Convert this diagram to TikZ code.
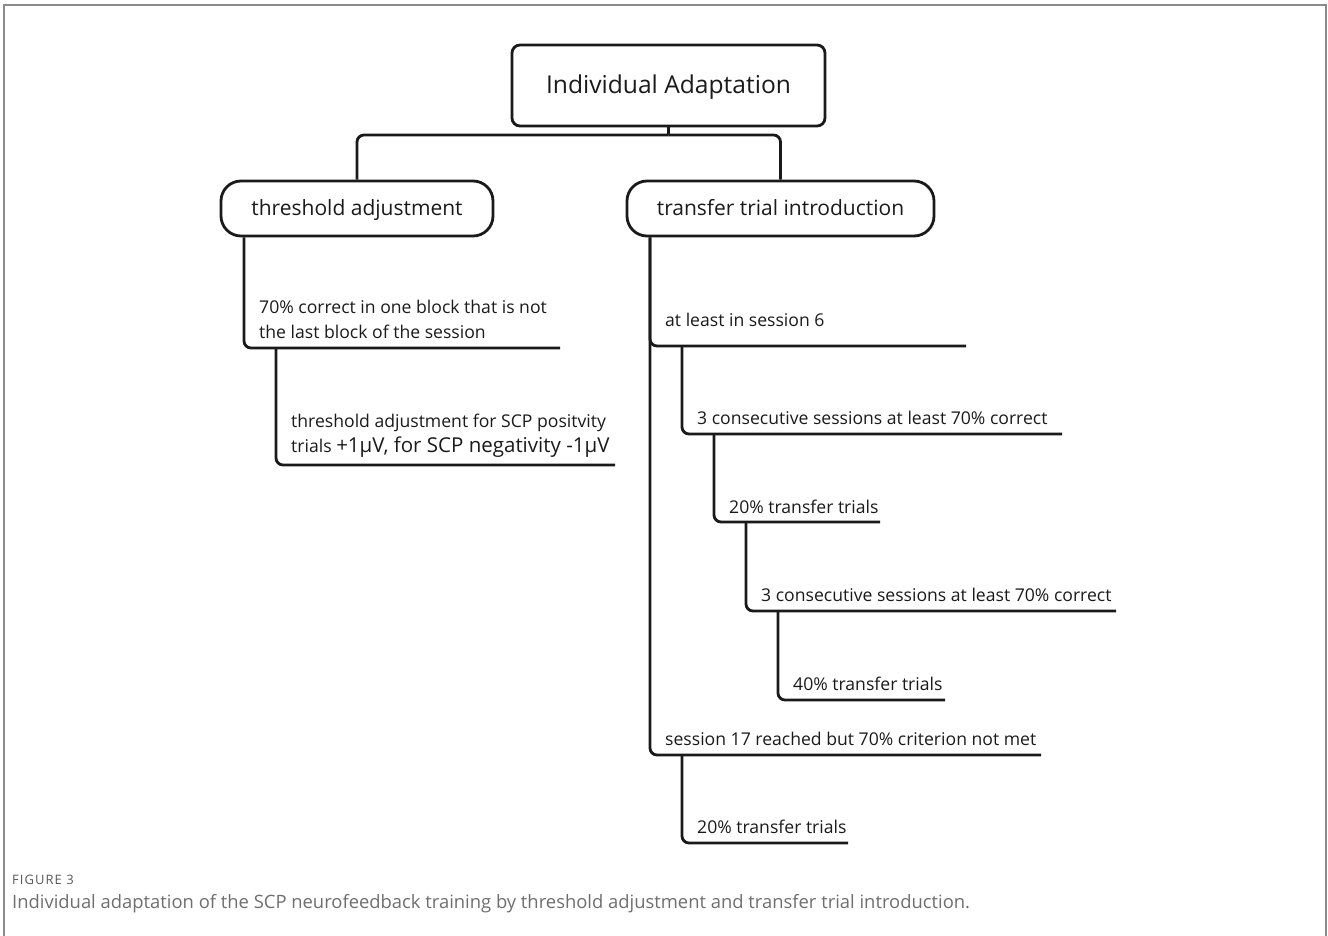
\documentclass[tikz,border=0pt]{standalone}
\usepackage{fontspec}
\setmainfont{Open Sans}
\definecolor{ink}{HTML}{1A1A1A}
\definecolor{capgray}{HTML}{6E6E6E}
\begin{document}
\begin{tikzpicture}[x=1pt,y=-1pt,
  box/.style={draw=ink,line width=2.8pt,rounded corners=#1,inner sep=0pt,text=ink,text depth=2pt},
  link/.style={draw=ink,line width=2.8pt,rounded corners=7pt},
  item/.style={anchor=base west,align=left,inner sep=0pt,text=ink,font=\fontsize{17.6}{25}\selectfont}]
\useasboundingbox (0,0) rectangle (1328,936);
% frame
\draw[capgray!80,line width=1.5pt] (4,936) -- (4,5) -- (1326,5) -- (1326,936);
% heads
\node[box=8pt,minimum width=313pt,minimum height=81pt,text height=19pt,font=\fontsize{24.6}{28}\selectfont] (root) at (668.5,85.5) {Individual Adaptation};
\node[box=20pt,minimum width=272pt,minimum height=55pt,text height=17pt,font=\fontsize{21}{26}\selectfont] (thr) at (357,208.5) {threshold adjustment};
\node[box=20pt,minimum width=307pt,minimum height=55pt,text height=17pt,font=\fontsize{21}{26}\selectfont] (tti) at (780.5,208.5) {transfer trial introduction};
\coordinate (split) at (668.5,135);
\draw[link] (root.south) -- (split);
\draw[link] (split) -| (thr.north);
\draw[link] (split) -| (tti.north);
% threshold branch
\coordinate (c1s) at (244,348);
\coordinate (c1e) at (560,348);
\coordinate (c2s) at (276,465);
\coordinate (c2e) at (615,465);
\draw[link] (thr.south -| c1s) |- (c1e);
\draw[link] (c2s |- c1e) |- (c2e);
\node[item] (c1) at (259,338) {70\% correct in one block that is not\\the last block of the session};
\node[item] (c2) at (291,452) {threshold adjustment for SCP positvity\\trials {\fontsize{20.5}{25}\selectfont +1µV, for SCP negativity -1µV}};
% transfer branch
\coordinate (r1s) at (650,346);
\coordinate (r1e) at (966,346);
\coordinate (r2s) at (682,434);
\coordinate (r2e) at (1062,434);
\coordinate (r3s) at (714,522);
\coordinate (r3e) at (880,522);
\coordinate (r4s) at (746,611);
\coordinate (r4e) at (1116,611);
\coordinate (r5s) at (778,700);
\coordinate (r5e) at (945,700);
\coordinate (r6s) at (650,755);
\coordinate (r6e) at (1041,755);
\coordinate (r7s) at (682,843);
\coordinate (r7e) at (848,843);
\draw[link] (tti.south -| r6s) |- (r6e);
\draw[link] (tti.south -| r1s) |- (r1e);
\draw[link] (r2s |- r1e) |- (r2e);
\draw[link] (r3s |- r2e) |- (r3e);
\draw[link] (r4s |- r3e) |- (r4e);
\draw[link] (r5s |- r4e) |- (r5e);
\draw[link] (r7s |- r6e) |- (r7e);
\node[item] (r1) at (665,326) {at least in session 6};
\node[item] (r2) at (697,424) {3 consecutive sessions at least 70\% correct};
\node[item] (r3) at (729,513) {20\% transfer trials};
\node[item] (r4) at (761,601) {3 consecutive sessions at least 70\% correct};
\node[item] (r5) at (793,690) {40\% transfer trials};
\node[item] (r6) at (665,745) {session 17 reached but 70\% criterion not met};
\node[item] (r7) at (697,833) {20\% transfer trials};
% caption
\node[anchor=base west,inner sep=0pt,text=capgray!80!black,font=\fontsize{13}{14}\selectfont\addfontfeatures{LetterSpace=8}] (fig) at (12,884) {FIGURE 3};
\node[anchor=base west,inner sep=0pt,text=capgray,font=\fontsize{18.4}{20}\selectfont] (cap) at (12,908) {Individual adaptation of the SCP neurofeedback training by threshold adjustment and transfer trial introduction.};
\end{tikzpicture}
\end{document}
